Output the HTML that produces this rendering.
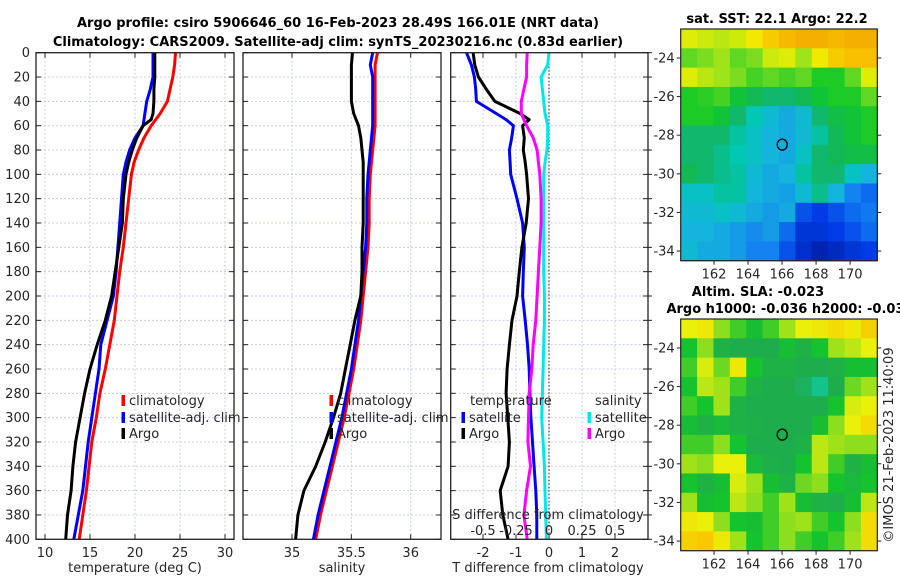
<!DOCTYPE html>
<html><head><meta charset="utf-8">
<style>
html,body{margin:0;padding:0;background:#fff;}
svg{display:block;font-family:"DejaVu Sans","Liberation Sans",sans-serif;}
.t{font-size:13px;fill:#262626;}
.b{font-size:13px;font-weight:bold;fill:#000;}
</style></head>
<body>
<svg id="fig" width="900" height="580" viewBox="0 0 900 580" xmlns="http://www.w3.org/2000/svg">
<text class="b" x="338" y="27" text-anchor="middle">Argo profile: csiro 5906646_60 16-Feb-2023 28.49S 166.01E (NRT data)</text>
<text class="b" x="338" y="46" text-anchor="middle">Climatology: CARS2009. Satellite-adj clim: synTS_20230216.nc (0.83d earlier)</text>
<text class="b" x="777" y="23" text-anchor="middle">sat. SST: 22.1 Argo: 22.2</text>
<text class="b" x="758" y="296" text-anchor="middle">Altim. SLA: -0.023</text>
<text class="b" x="790" y="313" text-anchor="middle">Argo h1000: -0.036 h2000: -0.036</text>
<text class="t" x="893" y="445" text-anchor="middle" transform="rotate(-90 893 445)">©IMOS 21-Feb-2023 11:40:09</text>
<g id="layer"></g>
</svg>
<script>
// ---- data ----
const depths = [0,10,20,30,40,50,55,60,70,80,90,100,120,140,160,180,200,220,240,260,280,300,320,340,360,380,400];
const climT = [24.5,24.4,24.2,23.9,23.6,22.8,22.3,21.8,21.0,20.4,19.9,19.6,19.3,19.0,18.7,18.3,18.0,17.7,17.2,16.7,16.1,15.7,15.2,14.9,14.6,14.2,13.8];
const satT  = [22.0,22.0,22.0,21.7,21.3,21.1,21.0,20.9,20.0,19.4,19.0,18.7,18.5,18.3,18.1,17.9,17.6,16.9,16.2,16.0,15.6,15.2,14.8,14.5,14.2,13.7,13.2];
const argoT = [22.2,22.2,22.2,22.1,22.1,22.0,21.8,20.9,20.2,19.7,19.3,19.0,18.7,18.6,18.2,17.8,17.4,16.7,15.8,15.0,14.4,13.9,13.4,13.1,12.9,12.5,12.3];
const climS = [35.72,35.70,35.70,35.70,35.70,35.70,35.70,35.70,35.69,35.68,35.67,35.66,35.65,35.65,35.64,35.62,35.60,35.58,35.55,35.52,35.48,35.44,35.39,35.34,35.29,35.24,35.20];
const satS  = [35.68,35.66,35.68,35.68,35.68,35.68,35.68,35.68,35.67,35.66,35.65,35.64,35.63,35.63,35.62,35.60,35.58,35.56,35.53,35.50,35.46,35.42,35.37,35.32,35.27,35.22,35.18];
const argoS = [35.51,35.50,35.50,35.50,35.50,35.52,35.54,35.56,35.58,35.59,35.60,35.60,35.60,35.60,35.59,35.59,35.58,35.53,35.49,35.45,35.41,35.35,35.28,35.20,35.10,35.05,35.03];
const tSatDiff  = [-2.5,-2.35,-2.26,-2.22,-2.2,-1.6,-1.3,-1.08,-1.13,-1.2,-1.18,-1.16,-0.97,-0.8,-0.75,-0.78,-0.8,-0.72,-0.65,-0.6,-0.58,-0.55,-0.5,-0.45,-0.4,-0.37,-0.37];
const tArgoDiff = [-2.3,-2.25,-2.14,-1.9,-1.64,-0.88,-0.6,-0.8,-0.75,-0.78,-0.72,-0.68,-0.62,-0.69,-0.82,-0.9,-0.97,-1.12,-1.2,-1.27,-1.3,-1.25,-1.2,-1.24,-1.48,-1.4,-1.24];
const sSatDiff  = [0.0,-0.01,-0.06,-0.05,-0.04,-0.03,-0.02,-0.01,-0.01,-0.015,-0.03,-0.04,-0.04,-0.04,-0.04,-0.04,-0.035,-0.035,-0.04,-0.045,-0.05,-0.055,-0.045,-0.035,-0.03,-0.025,-0.02];
const sArgoDiff = [-0.165,-0.17,-0.17,-0.19,-0.21,-0.21,-0.19,-0.17,-0.12,-0.09,-0.08,-0.07,-0.06,-0.06,-0.07,-0.08,-0.09,-0.1,-0.12,-0.13,-0.15,-0.155,-0.16,-0.14,-0.17,-0.19,-0.165];
const depthTicks = [0,20,40,60,80,100,120,140,160,180,200,220,240,260,280,300,320,340,360,380,400];
const tempTicks = [10,15,20,25,30];
const salTicks = [35,35.5,36];
const tDiffTicks = [-2,-1,0,1,2];
const sDiffTicks = [-0.5,-0.25,0,0.25,0.5];
const sDiffLabels = ["-0.5","-0.25","0","0.25","0.5"];
const lonTicks = [162,164,166,168,170];
const latTicks = [-24,-26,-28,-30,-32,-34];
const argoLon = 166.01, argoLat = -28.49;
const sstGrid = [
[0.82,0.8,0.78,0.8,0.85,0.9,0.93,0.95,0.95,0.93,0.95,0.95],
[0.7,0.72,0.75,0.7,0.72,0.8,0.82,0.75,0.85,0.9,0.92,0.92],
[0.82,0.78,0.75,0.72,0.68,0.7,0.68,0.7,0.65,0.65,0.7,0.82],
[0.65,0.66,0.68,0.62,0.58,0.55,0.55,0.58,0.62,0.65,0.65,0.7],
[0.65,0.65,0.62,0.55,0.48,0.42,0.38,0.42,0.55,0.6,0.62,0.65],
[0.55,0.55,0.55,0.5,0.45,0.4,0.38,0.42,0.5,0.58,0.62,0.65],
[0.55,0.55,0.52,0.48,0.45,0.4,0.38,0.45,0.55,0.58,0.6,0.6],
[0.58,0.55,0.52,0.5,0.42,0.38,0.4,0.5,0.55,0.55,0.45,0.4],
[0.45,0.45,0.5,0.5,0.4,0.38,0.36,0.42,0.52,0.4,0.3,0.25],
[0.42,0.42,0.45,0.42,0.38,0.35,0.38,0.2,0.15,0.2,0.25,0.28],
[0.4,0.4,0.38,0.35,0.32,0.35,0.25,0.12,0.12,0.15,0.2,0.25],
[0.42,0.38,0.38,0.35,0.3,0.3,0.2,0.1,0.05,0.08,0.12,0.15]];
const slaGrid = [
[0.8,0.82,0.7,0.65,0.6,0.65,0.72,0.8,0.82,0.85,0.82,0.88],
[0.62,0.7,0.55,0.5,0.5,0.5,0.6,0.55,0.62,0.72,0.75,0.8],
[0.65,0.78,0.68,0.82,0.62,0.55,0.55,0.5,0.5,0.55,0.6,0.6],
[0.62,0.75,0.72,0.65,0.55,0.5,0.5,0.45,0.4,0.5,0.68,0.72],
[0.65,0.62,0.72,0.55,0.5,0.5,0.5,0.5,0.5,0.62,0.78,0.8],
[0.6,0.55,0.58,0.55,0.52,0.5,0.5,0.5,0.6,0.7,0.8,0.85],
[0.65,0.65,0.7,0.62,0.5,0.5,0.5,0.55,0.75,0.72,0.7,0.7],
[0.72,0.7,0.8,0.8,0.58,0.52,0.5,0.62,0.75,0.65,0.55,0.6],
[0.62,0.55,0.6,0.78,0.72,0.6,0.55,0.68,0.7,0.62,0.58,0.62],
[0.72,0.6,0.62,0.75,0.7,0.65,0.72,0.6,0.55,0.52,0.6,0.75],
[0.82,0.8,0.7,0.62,0.6,0.65,0.7,0.72,0.65,0.62,0.7,0.85],
[0.88,0.9,0.82,0.72,0.62,0.65,0.7,0.65,0.62,0.65,0.72,0.85]];

// ---- helpers ----
const NS = "http://www.w3.org/2000/svg";
const layer = document.getElementById('layer');
function mk(tag, attrs, parent){ const e=document.createElementNS(NS,tag); for(const k in attrs) e.setAttribute(k,attrs[k]); (parent||layer).appendChild(e); return e; }
const Y0=52.7, Y1=539.3;
const yD = d => Y0 + d*(Y1-Y0)/400;
function lin(d0,d1,p0,p1){ return v => p0 + (v-d0)*(p1-p0)/(d1-d0); }
const xT = lin(10,30,45,225);
const xS = lin(35,36,292,410.7);
const xTd = lin(0,1,549,582);
const xSd = lin(0,0.25,549,582);

function panel(name, x0, x1, xTicksArr, xf, tickLabels, showY, rightTicks){
  const g = mk('g',{});
  
  
  depthTicks.forEach(d=>{ const l=mk('line',{x1:x0,x2:x1,y1:yD(d),y2:yD(d),stroke:'#c5cde6','stroke-width':1,'stroke-dasharray':'2,2'},g);
      });
  xTicksArr.forEach(v=>{ const l=mk('line',{x1:xf(v),x2:xf(v),y1:Y0,y2:Y1,stroke:'#c5cde6','stroke-width':1,'stroke-dasharray':'2,2'},g);
      });
  depthTicks.forEach(d=>{
    mk('line',{x1:x0,x2:x0+5,y1:yD(d),y2:yD(d),stroke:'#222'},g);
    mk('line',{x1:x1,x2:x1-5,y1:yD(d),y2:yD(d),stroke:'#222'},g);
    if(rightTicks){ mk('line',{x1:x1,x2:x1+4,y1:yD(d),y2:yD(d),stroke:'#222'},g); }
    if(showY){ const t=mk('text',{x:30,y:yD(d)+4.5,'text-anchor':'end',class:'t'},g); t.textContent=d;
        }
  });
  xTicksArr.forEach((v,i)=>{
    mk('line',{x1:xf(v),x2:xf(v),y1:Y1,y2:Y1-5,stroke:'#222'},g);
    mk('line',{x1:xf(v),x2:xf(v),y1:Y0,y2:Y0+5,stroke:'#222'},g);
    const t=mk('text',{x:xf(v),y:557,'text-anchor':'middle',class:'t'},g); t.textContent=tickLabels[i];
     
  });
  return g;
}
function frame(name,x0,x1){ const r=mk('rect',{x:x0,y:Y0,width:x1-x0,height:Y1-Y0,fill:'none',stroke:'#222','stroke-width':1.3});
    }
function series(name, vals, xf, color){
  const pts = vals.map((v,i)=>xf(v).toFixed(1)+','+yD(depths[i]).toFixed(1)).join(' ');
  const p = mk('polyline',{points:pts,fill:'none',stroke:color,'stroke-width':3,'stroke-linejoin':'round'});
  
  
}
function legendItem(name,x,y,color,label){
  const g=mk('g',{});
  
  
  mk('rect',{x:x-1.5,y:y-10,width:3.5,height:11,fill:color},g);
  const t=mk('text',{x:x+6,y:y,class:'t'},g); t.textContent=label;
}
function txt(name,x,y,s,anchor){ const t=mk('text',{x:x,y:y,class:'t','text-anchor':anchor||'start'}); t.textContent=s;
    }

// temperature panel
panel('temperature-panel',36,234,tempTicks,xT,tempTicks.map(String),true,false);
series('temp-climatology-line',climT,xT,'#ff0000');
series('temp-satellite-line',satT,xT,'#0000ff');
series('temp-argo-line',argoT,xT,'#000000');
frame('temperature-axes',36,234);
txt('temperature-axis-title',135,572,'temperature (deg C)','middle');
legendItem('legend-climatology',123,405,'#ff0000','climatology');
legendItem('legend-satellite-adj-clim',123,422,'#0000ff','satellite-adj. clim');
legendItem('legend-argo',123,438,'#000000','Argo');

// salinity panel
panel('salinity-panel',243,441,salTicks,xS,['35','35.5','36'],false,false);
series('sal-climatology-line',climS,xS,'#ff0000');
series('sal-satellite-line',satS,xS,'#0000ff');
series('sal-argo-line',argoS,xS,'#000000');
frame('salinity-axes',243,441);
txt('salinity-axis-title',342,572,'salinity','middle');
legendItem('legend-sal-climatology',331,405,'#ff0000','climatology');
legendItem('legend-sal-satellite-adj-clim',331,422,'#0000ff','satellite-adj. clim');
legendItem('legend-sal-argo',331,438,'#000000','Argo');

// difference panel
panel('difference-panel',450.7,648,tDiffTicks,xTd,tDiffTicks.map(String),false,true);
const z=mk('line',{x1:xTd(0),x2:xTd(0),y1:Y0,y2:Y1,stroke:'#444','stroke-width':1.2,'stroke-dasharray':'1.5,2'});
 
series('diff-t-satellite-line',tSatDiff,xTd,'#0000ff');
series('diff-t-argo-line',tArgoDiff,xTd,'#000000');
series('diff-s-satellite-line',sSatDiff,xSd,'#00e8e8');
series('diff-s-argo-line',sArgoDiff,xSd,'#ff00ff');
frame('difference-axes',450.7,648);
txt('legend-temperature-heading',470,405,'temperature');
legendItem('legend-t-satellite',463,422,'#0000ff','satellite');
legendItem('legend-t-argo',463,438,'#000000','Argo');
txt('legend-salinity-heading',595,405,'salinity');
legendItem('legend-s-satellite',589,422,'#00e8e8','satellite');
legendItem('legend-s-argo',589,438,'#ff00ff','Argo');
txt('s-diff-axis-title',548,519,'S difference from climatology','middle');
sDiffTicks.forEach((v,i)=>{ txt('s-diff-tick-label',xSd(v),535,sDiffLabels[i],'middle'); });
txt('t-diff-axis-title',548,572,'T difference from climatology','middle');

// maps
const sstStops=[[0,[0,24,150]],[0.15,[0,60,230]],[0.3,[20,130,240]],[0.4,[20,180,220]],[0.48,[0,200,180]],[0.56,[20,180,100]],[0.64,[16,200,40]],[0.74,[150,225,30]],[0.84,[240,240,0]],[0.92,[248,190,0]],[1,[240,150,0]]];
const slaStops=[[0,[0,60,230]],[0.4,[20,195,140]],[0.47,[30,170,80]],[0.55,[30,178,70]],[0.62,[20,195,45]],[0.7,[140,222,30]],[0.8,[235,240,10]],[0.9,[248,200,0]],[1,[240,160,0]]];
function cmap(stops,v){ for(let i=1;i<stops.length;i++){ if(v<=stops[i][0]){ const a=stops[i-1],b=stops[i],f=(v-a[0])/(b[0]-a[0]);
  return 'rgb('+a[1].map((c,k)=>Math.round(c+(b[1][k]-c)*f)).join(',')+')'; } } const l=stops[stops.length-1][1]; return 'rgb('+l.join(',')+')'; }
function map(name,grid,stops,top,bottom,latTop){
  const L=680.7,R=877.3; const lonL=160.04,lonR=171.6;
  const xm=lin(lonL,lonR,L,R); const ym=lin(latTop,latTop-12,top,bottom);
  const g=mk('g',{});  
  const nr=grid.length,nc=grid[0].length; const cw=(R-L)/nc,ch=(bottom-top)/nr;
  grid.forEach((row,r)=>row.forEach((v,c)=>{ const cell=mk('rect',{x:L+c*cw,y:top+r*ch,width:cw+0.6,height:ch+0.6,fill:cmap(stops,v)},g);
      }));
  mk('rect',{x:L,y:top,width:R-L,height:bottom-top,fill:'none',stroke:'#222','stroke-width':1.2},g);
  lonTicks.forEach(v=>{ mk('line',{x1:xm(v),x2:xm(v),y1:bottom,y2:bottom+4,stroke:'#222'},g);
    const t=mk('text',{x:xm(v),y:bottom+18,'text-anchor':'middle',class:'t'},g); t.textContent=v;
      });
  latTicks.forEach(v=>{ mk('line',{x1:L,x2:L-4,y1:ym(v),y2:ym(v),stroke:'#222'},g);
    mk('line',{x1:R,x2:R+4,y1:ym(v),y2:ym(v),stroke:'#222'},g);
    const t=mk('text',{x:L-6,y:ym(v)+4.5,'text-anchor':'end',class:'t'},g); t.textContent=v;
      });
  const c=mk('ellipse',{cx:xm(argoLon),cy:ym(argoLat),rx:5,ry:5.5,fill:'none',stroke:'#000','stroke-width':1.3},g);
   
}
map('sst-map',sstGrid,sstStops,29,260.7,-22.5);
map('sla-map',slaGrid,slaStops,319,550.7,-22.5);
</script>
</body></html>
